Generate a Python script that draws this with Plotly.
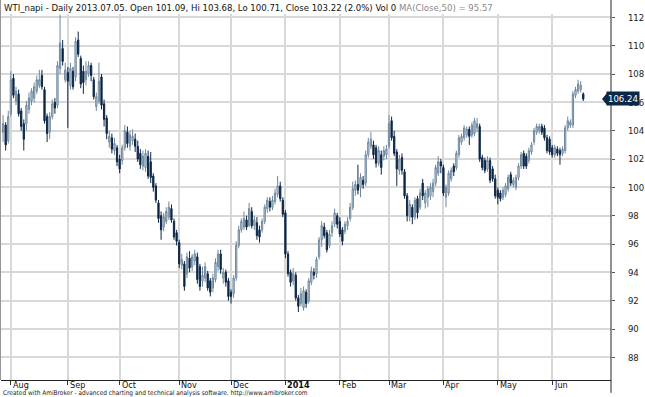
import pandas as pd
import plotly.graph_objects as go

# ---- data ----
opens = [103.9,104.4,103.3,105.2,107.7,106.1,106.6,105.4,104.5,104.5,105.5,106.1,106.3,106.8,107.2,107.9,106.9,105.0,103.9,105.0,
         106.0,105.8,108.4,109.8,107.6,108.1,107.2,108.2,107.8,110.4,109.1,108.2,107.6,108.0,108.6,107.6,105.7,106.1,107.8,105.9,
         104.9,103.2,103.5,102.6,102.8,102.0,101.9,102.8,103.9,102.9,103.3,103.4,102.9,102.4,101.5,101.4,102.2,101.8,100.8,100.1,
         98.9,98.0,97.2,97.6,97.9,98.5,97.6,96.8,96.1,94.5,94.6,93.9,95.0,94.4,94.8,95.1,94.4,93.4,93.6,93.9,
         93.4,92.9,93.5,94.4,95.3,93.6,94.0,93.4,92.6,92.5,93.6,95.9,97.0,97.2,97.7,97.3,98.3,97.3,97.5,97.0,
         97.0,97.6,98.5,99.0,98.6,99.0,99.5,100.1,99.1,98.2,95.3,94.0,93.4,93.8,92.2,91.8,91.5,92.6,92.0,93.3,
         94.0,93.9,95.1,96.3,97.2,96.8,95.9,96.8,97.4,98.0,97.6,97.0,96.9,97.3,97.8,98.6,99.8,100.2,100.0,100.5,
         100.3,102.3,102.9,103.0,102.8,101.7,102.3,102.2,102.3,102.9,104.7,103.6,102.5,101.2,102.1,101.1,99.4,97.9,98.6,97.9,
         99.2,98.6,100.3,98.9,99.3,99.4,99.7,100.3,101.0,101.8,101.4,99.3,99.6,100.6,101.5,101.4,102.3,103.2,103.5,103.7,
         104.1,103.7,103.8,104.2,104.3,102.1,101.9,101.3,101.9,101.3,100.6,99.8,99.6,99.3,99.5,99.9,100.9,100.2,100.0,100.7,
         101.5,102.4,102.2,101.9,102.5,103.2,103.9,104.0,104.3,104.2,103.5,103.4,102.8,102.3,102.7,102.6,102.4,102.6,104.2,104.4,
         104.4,106.5,106.8,106.9,106.6]
highs = [105.1,104.6,105.4,108.2,108.0,107.1,106.9,105.6,104.8,106.1,106.7,107.0,107.4,107.9,108.3,108.3,107.1,105.2,105.3,106.2,
         106.3,108.9,112.2,110.4,108.8,108.5,108.8,108.5,110.6,111.0,109.3,108.6,108.9,108.9,108.8,107.8,106.7,108.8,108.0,106.2,
         105.1,104.0,103.8,103.5,103.0,102.3,103.0,104.4,104.3,104.0,104.1,103.8,103.3,102.7,102.6,102.7,102.6,102.5,101.0,100.3,
         99.1,98.3,98.2,98.6,99.0,98.8,97.8,97.0,96.3,95.3,94.8,95.4,95.5,95.3,95.6,95.4,94.6,94.4,94.7,94.1,
         93.6,93.9,95.0,95.6,95.6,94.3,94.2,93.6,92.8,93.8,96.2,97.3,97.8,98.3,98.0,98.9,98.6,98.0,97.9,97.3,
         97.8,98.8,99.3,99.3,99.4,99.9,100.8,100.4,99.3,98.4,95.5,94.2,94.3,94.0,92.4,92.9,93.0,92.8,93.6,94.4,
         94.3,95.1,96.5,97.6,97.5,97.0,97.0,97.6,98.5,98.2,97.9,97.2,97.6,97.9,98.9,100.4,100.5,101.6,101.0,100.8,
         102.6,103.5,103.9,103.3,103.0,102.9,102.6,102.9,103.0,105.1,105.0,104.0,102.7,102.3,102.4,101.3,99.6,99.1,98.8,99.3,
         99.4,99.9,100.6,99.8,100.1,100.3,100.6,101.6,102.2,102.0,101.6,100.2,101.2,101.4,101.7,102.6,103.7,103.8,104.4,104.3,
         104.3,104.6,104.9,104.9,104.5,102.3,102.1,102.2,102.1,101.5,100.9,100.0,99.8,100.0,100.3,100.9,101.1,100.7,100.9,101.7,
         102.5,102.6,102.4,102.8,103.2,104.2,104.5,104.5,104.5,104.4,103.7,103.6,103.0,103.0,102.9,102.8,102.9,104.4,105.0,104.8,
         106.8,107.1,107.6,107.5,106.7]
lows = [103.2,102.6,103.1,105.0,106.3,105.8,105.0,104.0,102.6,104.0,105.2,105.8,106.0,106.6,107.0,106.9,104.5,103.2,103.4,104.8,
        105.2,105.6,108.0,108.6,107.4,104.2,106.9,106.9,107.5,109.2,107.0,106.6,107.2,107.8,107.5,106.2,105.4,105.9,105.5,104.3,
        103.4,102.8,102.4,102.3,101.5,101.0,101.6,102.6,102.8,102.6,103.0,102.5,101.8,101.3,101.2,101.1,100.6,100.3,99.7,98.9,
        97.5,96.3,96.9,97.4,97.7,97.5,96.3,95.9,94.3,94.2,92.7,93.6,94.0,94.1,94.5,93.2,92.7,93.0,93.3,92.7,
        92.3,92.6,93.3,94.1,93.9,93.2,93.0,92.0,91.8,92.2,93.4,95.7,96.8,97.0,97.0,97.2,97.1,97.0,96.3,96.1,
        96.8,97.4,98.2,98.3,98.4,98.8,99.3,99.0,97.9,95.0,93.7,93.0,93.1,92.0,91.2,91.6,91.3,91.5,91.8,93.1,
        93.5,93.6,94.9,95.8,96.4,95.4,95.7,96.5,97.2,97.1,96.5,95.9,96.7,97.0,97.6,98.4,99.4,99.5,99.3,99.9,
        100.1,102.1,102.7,102.0,101.4,101.5,100.9,101.9,102.0,102.7,103.3,102.2,100.1,100.9,100.9,99.2,97.6,97.6,97.4,97.7,
        97.8,98.4,99.1,98.5,98.6,99.1,99.3,100.1,100.8,101.0,99.4,98.6,99.4,100.4,100.8,101.2,102.1,103.0,103.3,103.5,
        103.0,103.5,103.6,103.9,101.8,101.2,101.0,101.1,100.3,100.4,99.2,98.8,99.0,99.1,99.3,99.7,100.1,100.0,99.8,100.5,
        101.3,101.3,101.3,101.7,102.3,103.0,103.7,103.8,103.7,103.3,102.4,102.3,102.1,102.1,102.2,101.6,102.2,102.4,104.0,104.2,
        104.2,106.3,106.6,106.7,106.1]
closes = [104.5,103.0,105.0,107.6,106.5,106.8,105.2,104.3,103.4,105.8,106.3,106.8,107.1,107.6,107.6,107.1,104.7,103.8,105.0,105.9,
          105.6,108.6,110.2,108.9,108.3,107.5,108.4,107.1,110.3,109.4,107.3,107.4,108.2,108.6,107.9,106.4,106.4,107.5,105.8,104.8,
          103.8,103.6,102.7,103.1,101.8,101.3,102.8,104.0,103.1,103.7,103.6,102.9,102.0,101.6,102.2,102.4,100.8,100.7,100.0,99.1,
          97.8,97.0,97.9,98.3,98.6,97.7,96.5,96.2,94.6,94.9,93.0,95.1,94.3,95.1,95.3,93.5,93.0,93.8,94.4,92.9,
          92.6,93.6,94.7,95.3,94.2,94.0,93.3,92.3,92.3,93.6,95.9,97.0,97.6,97.8,97.2,98.5,97.3,97.7,96.6,96.5,
          97.6,98.6,99.1,98.6,99.1,99.6,100.1,99.2,98.1,95.3,93.9,93.3,93.9,92.2,91.6,92.5,92.7,91.8,93.4,94.1,
          93.8,94.9,96.3,97.3,96.6,95.6,96.7,97.3,98.2,97.4,96.7,96.2,97.4,97.6,98.6,99.9,100.2,99.8,100.7,100.2,
          102.3,103.2,103.4,102.3,101.7,102.6,101.4,102.6,102.7,104.5,103.5,102.4,101.3,102.0,101.2,99.4,98.0,98.8,97.9,99.1,
          98.2,99.6,99.4,99.6,99.9,100.0,100.3,101.4,101.8,101.5,99.6,100.0,101.0,101.2,101.1,102.4,103.5,103.6,104.2,104.1,
          103.6,104.4,104.7,104.5,102.0,101.4,101.2,101.9,100.5,100.6,99.4,99.3,99.2,99.8,100.1,100.7,100.3,100.5,100.7,101.5,
          102.3,101.5,101.5,102.6,103.0,104.0,104.3,104.3,103.9,103.5,102.6,102.5,102.3,102.8,102.4,102.3,102.7,104.2,104.7,104.6,
          106.6,106.9,107.3,107.2,106.24]

holidays = ["2013-09-02", "2013-11-28", "2013-12-25", "2014-01-01", "2014-01-20",
            "2014-02-17", "2014-04-18", "2014-05-26"]
dates = [d for d in pd.bdate_range("2013-07-29", "2014-06-18") if d.strftime("%Y-%m-%d") not in holidays]
n = min(len(dates), len(closes))
dates = dates[:n]
idx = list(range(n))

title_main = "WTI_napi - Daily 2013.07.05. Open 101.09, Hi 103.68, Lo 100.71, Close 103.22 (2.0%) Vol 0 "
title_ma = "MA(Close,50) = 95.57"
footer = "Created with AmiBroker - advanced charting and technical analysis software. http://www.amibroker.com"
y_ticks = list(range(88, 113, 2))
last_close = closes[-1]

# month starts
month_pos, month_lbl = [], []
for i, d in enumerate(dates):
    if i == 0:
        continue
    if d.month != dates[i - 1].month:
        month_pos.append(i)
        month_lbl.append(str(d.year) if d.month == 1 else d.strftime("%b"))

FONT = "Liberation Sans Narrow, Arial Narrow, DejaVu Sans Condensed, Liberation Sans, Arial, sans-serif"
NAVY = "#0d2747"

fig = go.Figure(go.Candlestick(
    x=idx, open=opens[:n], high=highs[:n], low=lows[:n], close=closes[:n],
    increasing=dict(line=dict(color="#6d879e", width=1), fillcolor="#d3dee7"),
    decreasing=dict(line=dict(color=NAVY, width=1), fillcolor=NAVY),
    whiskerwidth=0, hoverinfo="skip", showlegend=False,
))

annotations = [
    dict(x=0, xref="paper", y=1, yref="paper", yanchor="middle", yshift=7, xanchor="left", xshift=1,
         text=title_main + "<span style='color:#8a8a8a'>" + title_ma + "</span>",
         showarrow=False, font=dict(family=FONT, size=9.5, color="#111")),
    dict(x=0, xref="paper", y=0, yref="paper", yanchor="top", yshift=-7, xanchor="left", xshift=0,
         text=footer, showarrow=False, font=dict(family=FONT, size=6.5, color="#222")),
    dict(x=1, xref="paper", y=last_close, yref="y", xanchor="left", xshift=-5, yanchor="middle",
         text="%.2f" % last_close, showarrow=False, bgcolor=NAVY, borderpad=1,
         font=dict(family=FONT, size=9.5, color="white")),
]
for p, lbl in zip(month_pos, month_lbl):
    annotations.append(dict(
        x=p, xref="x", y=0, yref="paper", yanchor="top", yshift=2, xanchor="left", xshift=0,
        text=("<b>%s</b>" % lbl) if lbl.isdigit() else lbl, showarrow=False,
        font=dict(family=FONT, size=9, color="#111")))

shapes = [
    dict(type="line", xref="paper", yref="paper", x0=-0.0016, x1=-0.0016, y0=0, y1=1.04,
         line=dict(color="#333", width=1)),
    dict(type="line", xref="paper", yref="paper", x0=1, x1=1, y0=-0.035, y1=1.04,
         line=dict(color="#222", width=1)),
    dict(type="path", xref="paper", yref="y", xsizemode="pixel", ysizemode="pixel",
         xanchor=1, yanchor=last_close, path="M -9 0 L -4 6 L -4 -6 Z",
         fillcolor=NAVY, line=dict(color=NAVY, width=0)),
]

fig.update_layout(
    width=645, height=397,
    margin=dict(l=1, r=34, t=14, b=17),
    paper_bgcolor="white", plot_bgcolor="white",
    annotations=annotations, shapes=shapes,
    font=dict(family=FONT, size=10, color="#222"),
    xaxis=dict(
        range=[-0.8, 234.7], rangeslider=dict(visible=False),
        tickmode="array", tickvals=month_pos, ticktext=month_lbl, showticklabels=False,
        ticks="outside", ticklen=4, tickcolor="#333",
        showgrid=True, gridcolor="#d8d8d8", gridwidth=2,
        showline=True, linecolor="#222", linewidth=1, zeroline=False,
    ),
    yaxis=dict(
        side="right", range=[86.4, 112.24], tickmode="array", tickvals=y_ticks,
        ticks="outside", ticklen=3, tickcolor="#555", ticklabelstandoff=11,
        tickfont=dict(family=FONT, size=9.5, color="#222"),
        showgrid=True, gridcolor="#d8d8d8", gridwidth=2,
        showline=False, zeroline=False, automargin=False,
    ),
)

fig.write_html("out.html", config={"displayModeBar": False},
               post_script="document.body.style.margin='0';document.body.style.overflow='hidden';")
